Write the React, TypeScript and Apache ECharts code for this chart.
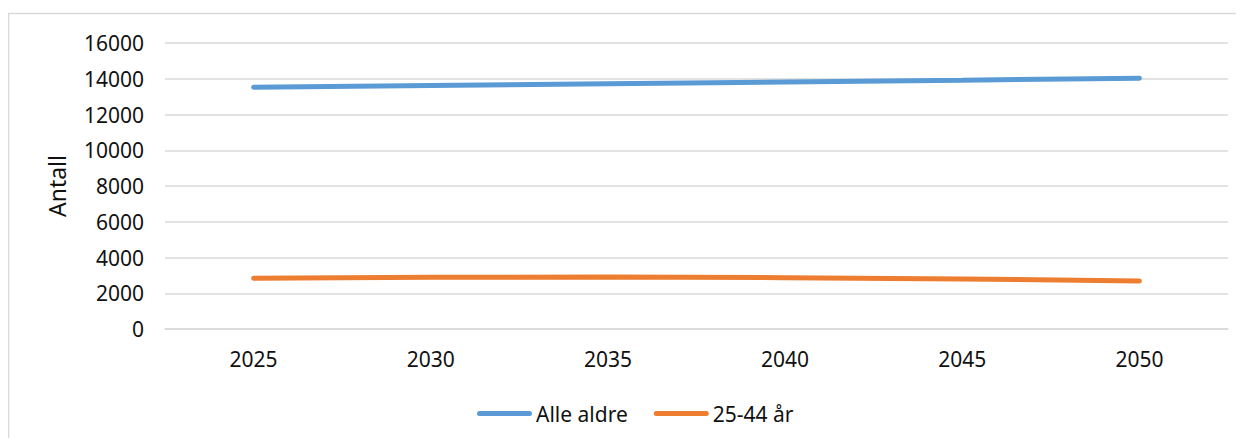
import React, { useEffect, useRef } from "react";
import * as echarts from "echarts";

const years = ["2025", "2030", "2035", "2040", "2045", "2050"];
const alleAldre = [13520, 13620, 13720, 13820, 13920, 14030];
const aar2544 = [2840, 2890, 2910, 2870, 2800, 2690];
const yTicks = { min: 0, max: 16000, interval: 2000 };

const FONT = "'Noto Sans', sans-serif";
const LINE_ICON =
  "path://M0,2.5 A2.5,2.5 0 0 1 2.5,0 L52.5,0 A2.5,2.5 0 0 1 52.5,5 L2.5,5 A2.5,2.5 0 0 1 0,2.5 Z";

export default function App() {
  const ref = useRef<HTMLDivElement>(null);
  useEffect(() => {
    if (!ref.current) return;
    const chart = echarts.init(ref.current, null, { renderer: "svg" });
    chart.setOption({
      animation: false,
      textStyle: { fontFamily: FONT, color: "#111" },
      graphic: [
        {
          type: "rect",
          shape: { x: 0.5, y: 5.5, width: 1260, height: 460 },
          style: { fill: "none", stroke: "#d9d9d9", lineWidth: 1.5 },
          silent: true,
        },
      ],
      grid: { left: 157, right: 16, top: 35, bottom: 109, containLabel: false },
      legend: {
        left: 464,
        top: 390,
        itemWidth: 55,
        itemHeight: 5,
        itemGap: 26,
        textStyle: { fontFamily: FONT, fontSize: 21, color: "#111", padding: [0, 0, 0, -1] },
        data: [
          { name: "Alle aldre", icon: LINE_ICON },
          { name: "25-44 år", icon: LINE_ICON },
        ],
      },
      xAxis: {
        type: "category",
        data: years,
        boundaryGap: true,
        axisLine: { show: true, lineStyle: { color: "#d9d9d9", width: 1.5 } },
        axisTick: { show: false },
        axisLabel: { fontFamily: FONT, fontSize: 21, color: "#111", margin: 19 },
      },
      yAxis: {
        type: "value",
        min: yTicks.min,
        max: yTicks.max,
        interval: yTicks.interval,
        name: "Antall",
        nameLocation: "middle",
        nameGap: 97,
        nameRotate: 90,
        nameTextStyle: { fontFamily: FONT, fontSize: 23, color: "#111" },
        axisLine: { show: false },
        axisTick: { show: false },
        splitLine: { lineStyle: { color: "#d9d9d9", width: 1.5 } },
        axisLabel: {
          fontFamily: FONT,
          fontSize: 21,
          color: "#111",
          margin: 21,
          formatter: (v: number) => String(v),
        },
      },
      series: [
        {
          name: "Alle aldre",
          type: "line",
          data: alleAldre,
          symbol: "none",
          lineStyle: { color: "#5B9BD5", width: 5, cap: "round" },
          itemStyle: { color: "#5B9BD5" },
        },
        {
          name: "25-44 år",
          type: "line",
          data: aar2544,
          symbol: "none",
          lineStyle: { color: "#ED7D31", width: 5, cap: "round" },
          itemStyle: { color: "#ED7D31" },
        },
      ],
    });
    return () => chart.dispose();
  }, []);
  return <div ref={ref} style={{ width: 1236, height: 430 }} />;
}
